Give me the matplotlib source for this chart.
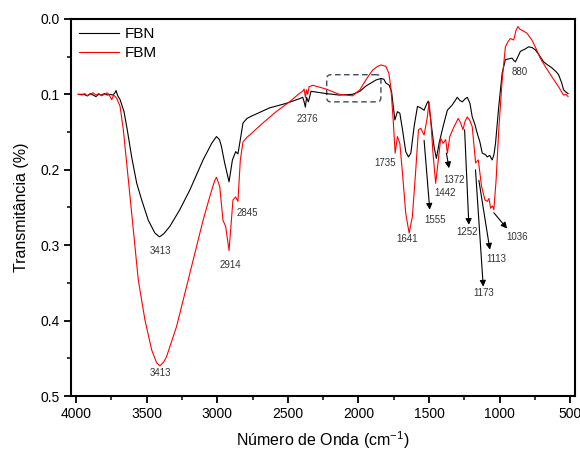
import matplotlib
matplotlib.use("Agg")
import matplotlib.pyplot as plt
from matplotlib.patches import FancyBboxPatch
from matplotlib.ticker import MultipleLocator

plt.rcParams['font.family'] = ['Liberation Sans', 'DejaVu Sans']

# FBN (black) spectrum
fbn_wn = [3985, 3950, 3920, 3900, 3880, 3860, 3840, 3820, 3800, 3780, 3760, 3740, 3725, 3718,
          3705, 3689, 3661, 3638, 3607, 3571, 3536, 3489, 3442, 3410, 3380, 3336, 3266, 3195,
          3101, 3040, 3006, 2985, 2971, 2948, 2917, 2893, 2870, 2854, 2837, 2818, 2790, 2759,
          2700, 2630, 2512, 2420, 2395, 2385, 2376, 2368, 2355, 2336, 2230, 2136, 2042, 1990,
          1947, 1876, 1841, 1820, 1806, 1782, 1765, 1759, 1742, 1724, 1707, 1688, 1665, 1646,
          1629, 1606, 1582, 1559, 1535, 1515, 1505, 1488, 1465, 1448, 1429, 1410, 1394, 1370,
          1335, 1300, 1282, 1264, 1245, 1229, 1210, 1194, 1175, 1158, 1140, 1123, 1100, 1088,
          1070, 1053, 1040, 1029, 1006, 982, 959, 935, 912, 900, 888, 870, 853, 820, 794, 770,
          747, 720, 688, 660, 629, 600, 582, 560, 547, 530, 515]
fbn_t = [0.100, 0.100, 0.102, 0.099, 0.101, 0.103, 0.100, 0.101, 0.099, 0.101, 0.100, 0.101, 0.098, 0.095,
         0.102, 0.107, 0.123, 0.147, 0.183, 0.218, 0.240, 0.267, 0.284, 0.289, 0.285, 0.275, 0.253, 0.227,
         0.187, 0.165, 0.156, 0.160, 0.169, 0.191, 0.216, 0.187, 0.176, 0.179, 0.160, 0.138, 0.132, 0.129,
         0.124, 0.118, 0.112, 0.106, 0.104, 0.110, 0.117, 0.104, 0.110, 0.096, 0.099, 0.101, 0.100, 0.096,
         0.089, 0.081, 0.079, 0.080, 0.085, 0.088, 0.097, 0.107, 0.134, 0.123, 0.125, 0.147, 0.176, 0.183,
         0.178, 0.143, 0.116, 0.118, 0.121, 0.112, 0.109, 0.134, 0.169, 0.185, 0.165, 0.150, 0.138, 0.121,
         0.114, 0.104, 0.108, 0.110, 0.106, 0.104, 0.112, 0.130, 0.140, 0.152, 0.163, 0.178, 0.180, 0.183,
         0.181, 0.187, 0.180, 0.165, 0.116, 0.072, 0.054, 0.053, 0.052, 0.055, 0.057, 0.050, 0.043, 0.040, 0.037, 0.038,
         0.041, 0.048, 0.057, 0.061, 0.065, 0.070, 0.074, 0.085, 0.094, 0.097, 0.099]

# FBM (red) spectrum
fbm_wn = [3985, 3960, 3940, 3920, 3900, 3880, 3860, 3840, 3820, 3800, 3780, 3765, 3748, 3735,
          3713, 3689, 3666, 3647, 3623, 3595, 3560, 3513, 3465, 3430, 3407, 3380, 3360, 3289,
          3218, 3148, 3101, 3054, 3020, 3006, 2983, 2960, 2941, 2917, 2900, 2889, 2870, 2854,
          2837, 2818, 2790, 2759, 2677, 2583, 2489, 2420, 2395, 2385, 2376, 2368, 2360, 2350,
          2324, 2230, 2136, 2042, 1990, 1971, 1930, 1900, 1865, 1840, 1806, 1785, 1771, 1754,
          1740, 1724, 1707, 1688, 1665, 1641, 1618, 1594, 1575, 1559, 1535, 1512, 1500, 1488,
          1472, 1453, 1434, 1417, 1401, 1382, 1370, 1353, 1323, 1293, 1276, 1260, 1245, 1229,
          1210, 1194, 1170, 1151, 1128, 1104, 1088, 1075, 1064, 1050, 1041, 1025, 1006, 982,
          959, 940, 924, 900, 885, 870, 855, 841, 806, 771, 740, 712, 677, 629, 582, 547, 530, 515]
fbm_t = [0.100, 0.101, 0.099, 0.102, 0.100, 0.098, 0.101, 0.099, 0.102, 0.100, 0.098, 0.101, 0.107, 0.101,
         0.105, 0.116, 0.147, 0.183, 0.227, 0.280, 0.346, 0.399, 0.439, 0.456, 0.460, 0.455, 0.448, 0.408,
         0.355, 0.302, 0.267, 0.236, 0.215, 0.210, 0.222, 0.267, 0.275, 0.307, 0.267, 0.240, 0.236, 0.242,
         0.187, 0.163, 0.157, 0.152, 0.138, 0.123, 0.110, 0.099, 0.096, 0.093, 0.104, 0.094, 0.100, 0.090,
         0.088, 0.093, 0.100, 0.102, 0.094, 0.088, 0.076, 0.068, 0.063, 0.061, 0.063, 0.072, 0.090, 0.134,
         0.178, 0.156, 0.165, 0.205, 0.258, 0.284, 0.262, 0.200, 0.147, 0.145, 0.154, 0.130, 0.110, 0.134,
         0.178, 0.218, 0.187, 0.158, 0.165, 0.160, 0.178, 0.156, 0.143, 0.132, 0.138, 0.147, 0.136, 0.130,
         0.135, 0.143, 0.191, 0.187, 0.222, 0.240, 0.242, 0.238, 0.251, 0.248, 0.253, 0.214, 0.147, 0.081,
         0.037, 0.030, 0.026, 0.028, 0.016, 0.010, 0.014, 0.015, 0.019, 0.028, 0.040, 0.052, 0.063, 0.077, 0.090, 0.101, 0.100, 0.103]

# peak labels without arrows: (text, x, y)
plain_labels = [("3413", 3402, 0.308), ("3413", 3400, 0.470), ("2914", 2905, 0.326),
                ("2845", 2788, 0.257), ("2376", 2360, 0.133), ("1735", 1811, 0.191),
                ("1641", 1653, 0.292), ("1442", 1387, 0.231), ("880", 860, 0.071)]

# arrowed labels: (text, start x, start y, tip x, tip y, label x, label y)
arrow_labels = [("1555", 1535, 0.161, 1495, 0.253, 1455, 0.267),
                ("1372", 1377, 0.178, 1358, 0.198, 1323, 0.214),
                ("1252", 1248, 0.147, 1218, 0.273, 1229, 0.283),
                ("1173", 1171, 0.200, 1116, 0.355, 1112, 0.363),
                ("1113", 1147, 0.214, 1069, 0.306, 1023, 0.319),
                ("1036", 1041, 0.257, 947, 0.278, 878, 0.289)]

fig = plt.figure(figsize=(5.8, 4.5), dpi=100)
ax = fig.add_axes([0.1216, 0.12, 0.870, 0.838])

ax.plot(fbn_wn, fbn_t, color='black', lw=0.8, label='FBN')
ax.plot(fbm_wn, fbm_t, color='#ff0000', lw=0.8, label='FBM')

for txt, x, y in plain_labels:
    ax.text(x, y, txt, fontsize=7, ha='center', va='center', color='#333333')

for txt, x0, y0, x1, y1, lx, ly in arrow_labels:
    ax.annotate('', xy=(x1, y1), xytext=(x0, y0),
                arrowprops=dict(arrowstyle='-|>', color='black', lw=0.8,
                                mutation_scale=9, shrinkA=0, shrinkB=0))
    ax.text(lx, ly, txt, fontsize=7, ha='center', va='center', color='#333333')

# dashed box around the 2200-1850 region
box = FancyBboxPatch((1841, 0.074), 384, 0.036,
                     boxstyle="round,pad=0,rounding_size=30", mutation_aspect=0.00019,
                     fill=False, ec='#3d4b5c', lw=1.0, ls=(0, (4, 2.5)))
ax.add_patch(box)

ax.set_xlim(4040, 465)
ax.set_ylim(0.5, 0.0)
ax.xaxis.set_major_locator(MultipleLocator(500))
ax.xaxis.set_minor_locator(MultipleLocator(250))
ax.yaxis.set_major_locator(MultipleLocator(0.1))
ax.yaxis.set_minor_locator(MultipleLocator(0.05))
ax.yaxis.set_major_formatter(matplotlib.ticker.FormatStrFormatter('%.1f'))

ax.tick_params(which='major', direction='out', length=5, width=1.3, labelsize=10, pad=3)
ax.tick_params(which='minor', direction='out', length=3, width=1.1)
for s in ax.spines.values():
    s.set_linewidth(1.5)

ax.set_xlabel('Número de Onda (cm$^{\\mathregular{-1}}$)', fontsize=11.5, labelpad=6)
ax.set_ylabel('Transmitância (%)', fontsize=11.5, labelpad=8)

ax.legend(loc='upper left', bbox_to_anchor=(0.0, 1.0), frameon=False, fontsize=11,
          handlelength=2.6, handletextpad=0.4, labelspacing=0.3, borderaxespad=0.15)

fig.savefig('out.png', dpi=100)
